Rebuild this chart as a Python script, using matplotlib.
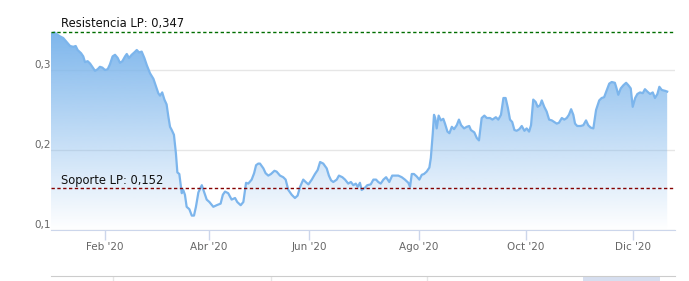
import numpy as np
import matplotlib.pyplot as plt
from matplotlib.transforms import offset_copy

# sesión bursátil (índice de día hábil desde el 1 ene 2020) y cotización
sesiones = [0.9, 2.3, 3.6, 4.6, 5.9, 7.3, 8.7, 10.0, 11.0, 11.8, 13.2, 14.1, 14.8, 15.9, 16.9,
            17.8, 18.9, 20.0, 20.9, 21.9, 23.0, 24.1, 25.0, 26.1, 27.1, 28.2, 29.1, 30.1, 31.2,
            31.9, 32.8, 33.9, 35.0, 36.0, 36.9, 38.0, 39.1, 40.1, 41.4, 42.8, 43.9, 44.8, 45.5,
            46.4, 47.3, 48.2, 48.9, 49.6, 50.3, 51.2, 52.0, 52.6, 53.4, 54.4, 55.0, 55.7, 56.4,
            57.5, 58.5, 59.4, 60.2, 61.2, 62.6, 63.5, 64.6, 65.7, 67.3, 68.7, 70.3, 71.2, 72.1,
            73.4, 74.8, 76.2, 77.1, 78.5, 79.6, 80.7, 81.6, 83.0, 84.0, 84.8, 85.7, 86.4, 87.8,
            88.7, 89.8, 90.9, 92.3, 93.2, 94.6, 95.9, 96.9, 98.0, 99.4, 100.7, 101.8, 102.8,
            104.1, 105.1, 106.2, 107.6, 108.9, 110.0, 111.0, 112.3, 113.7, 114.6, 115.5, 116.4,
            117.8, 118.7, 120.1, 121.2, 122.5, 123.6, 124.6, 125.6, 126.4, 127.3, 128.0, 129.4,
            130.3, 131.7, 132.8, 133.9, 134.8, 135.8, 136.9, 138.0, 139.3, 140.5, 141.7, 143.0,
            144.4, 145.7, 147.1, 147.8, 148.5, 149.4, 150.5, 151.6, 152.6, 153.5, 154.6, 155.7,
            156.3, 157.1, 157.6, 158.1, 158.7, 159.5, 160.4, 161.4, 162.1, 163.1, 163.9, 164.9,
            165.8, 166.9, 167.8, 168.7, 169.9, 171.0, 172.0, 172.7, 174.1, 175.1, 176.0, 177.1,
            178.2, 179.2, 180.5, 181.5, 182.9, 183.9, 185.0, 186.0, 186.9, 187.8, 188.7, 189.6,
            190.5, 191.4, 192.5, 193.5, 194.6, 195.5, 196.5, 197.3, 198.2, 199.2, 200.0, 201.0,
            201.7, 202.7, 203.7, 204.7, 205.8, 206.8, 207.8, 208.7, 209.9, 210.9, 211.9, 212.8,
            213.7, 214.6, 215.3, 216.2, 217.6, 218.7, 219.8, 220.7, 221.7, 222.8, 223.9, 225.2,
            226.2, 227.2, 228.3, 229.3, 230.3, 231.6, 232.3, 233.0, 234.0, 235.1, 236.2, 237.1,
            238.1, 238.9, 239.9, 240.8, 241.9, 243.0, 243.9, 244.9, 246.0, 247.1, 248.0, 249.0,
            249.8, 250.8, 252.1, 253.0]
precios = [0.345, 0.347, 0.344, 0.342, 0.340, 0.335, 0.330, 0.329, 0.330, 0.325, 0.321, 0.317,
           0.310, 0.311, 0.308, 0.304, 0.299, 0.301, 0.304, 0.303, 0.300, 0.301, 0.307, 0.317,
           0.319, 0.315, 0.309, 0.311, 0.317, 0.320, 0.315, 0.319, 0.322, 0.325, 0.322, 0.323,
           0.315, 0.306, 0.296, 0.289, 0.279, 0.271, 0.268, 0.272, 0.263, 0.257, 0.242, 0.229,
           0.225, 0.219, 0.196, 0.172, 0.170, 0.146, 0.150, 0.144, 0.129, 0.126, 0.118, 0.118,
           0.129, 0.147, 0.156, 0.148, 0.138, 0.135, 0.129, 0.131, 0.133, 0.144, 0.148, 0.146,
           0.138, 0.140, 0.135, 0.131, 0.135, 0.159, 0.158, 0.163, 0.171, 0.181, 0.183, 0.183,
           0.177, 0.171, 0.168, 0.170, 0.174, 0.173, 0.168, 0.166, 0.163, 0.150, 0.144, 0.140,
           0.143, 0.154, 0.163, 0.160, 0.157, 0.163, 0.170, 0.175, 0.185, 0.183, 0.177, 0.168,
           0.162, 0.160, 0.163, 0.168, 0.166, 0.163, 0.158, 0.160, 0.156, 0.158, 0.154, 0.159,
           0.150, 0.153, 0.156, 0.157, 0.163, 0.163, 0.160, 0.158, 0.163, 0.166, 0.160, 0.168,
           0.168, 0.168, 0.166, 0.163, 0.159, 0.154, 0.170, 0.170, 0.167, 0.163, 0.169, 0.170,
           0.173, 0.178, 0.190, 0.221, 0.244, 0.240, 0.227, 0.243, 0.237, 0.239, 0.233, 0.223,
           0.221, 0.229, 0.226, 0.231, 0.238, 0.231, 0.227, 0.229, 0.230, 0.225, 0.222, 0.215,
           0.212, 0.240, 0.243, 0.240, 0.240, 0.238, 0.241, 0.238, 0.244, 0.265, 0.265, 0.253,
           0.238, 0.235, 0.225, 0.224, 0.226, 0.230, 0.224, 0.227, 0.223, 0.231, 0.263, 0.260,
           0.254, 0.256, 0.262, 0.254, 0.248, 0.238, 0.237, 0.235, 0.233, 0.234, 0.240, 0.238,
           0.240, 0.244, 0.251, 0.244, 0.233, 0.230, 0.230, 0.231, 0.237, 0.231, 0.228, 0.227,
           0.250, 0.262, 0.265, 0.266, 0.275, 0.283, 0.285, 0.284, 0.277, 0.269, 0.277, 0.281,
           0.284, 0.281, 0.277, 0.254, 0.265, 0.270, 0.272, 0.271, 0.276, 0.273, 0.270, 0.272,
           0.265, 0.270, 0.279, 0.275, 0.274, 0.273]

meses_pos = [23.0, 65.5, 106.4, 151.5, 195.2, 239.0]
meses_txt = ["Feb '20", "Abr '20", "Jun '20", "Ago '20", "Oct '20", "Dic '20"]
y_ticks = [0.1, 0.2, 0.3]
y_txt = ["0,1", "0,2", "0,3"]

resistencia = 0.347
soporte = 0.152

azul = (124 / 255, 181 / 255, 236 / 255)

fig = plt.figure(figsize=(6.89, 2.81), dpi=100)
ax = fig.add_axes([51 / 689, 51 / 281, 624 / 689, 200 / 281])
ax.set_xlim(0.9, 256.2)
ax.set_ylim(0.1, 0.35)

# relleno degradado bajo la línea
x = np.array(sesiones)
y = np.array(precios)
relleno = ax.fill_between(x, y, 0.1, color='none', lw=0)
grad = np.zeros((256, 1, 4))
grad[:, 0, 0] = azul[0]
grad[:, 0, 1] = azul[1]
grad[:, 0, 2] = azul[2]
grad[:, 0, 3] = np.linspace(0.0, 1.0, 256)
im = ax.imshow(grad, extent=[0.9, 256.2, 0.1, 0.35], origin='lower', aspect='auto', zorder=1)
im.set_clip_path(relleno.get_paths()[0], transform=ax.transData)

ax.plot(x, y, color='#7cb5ec', lw=1.6, zorder=3, solid_joinstyle='round')

# líneas de soporte y resistencia
ax.axhline(resistencia, color='#006e00', lw=1, ls=(0, (2.4, 1.8)), zorder=4)
ax.axhline(soporte, color='#850000', lw=1, ls=(0, (2.4, 1.8)), zorder=4)
ax.annotate('Resistencia LP: ' + f'{resistencia:.3f}'.replace('.', ','),
            xy=(0.016, resistencia), xycoords=('axes fraction', 'data'),
            xytext=(0, 1.5), textcoords='offset points', va='bottom', ha='left',
            fontsize=8.3, color='#111111', annotation_clip=False)
ax.annotate('Soporte LP: ' + f'{soporte:.3f}'.replace('.', ','),
            xy=(0.016, soporte), xycoords=('axes fraction', 'data'),
            xytext=(0, 1.0), textcoords='offset points', va='bottom', ha='left',
            fontsize=8.3, color='#111111', zorder=5)

# ejes
for s in ['top', 'right', 'left']:
    ax.spines[s].set_visible(False)
ax.spines['bottom'].set_color('#ccd6eb')
ax.set_xticks(meses_pos)
ax.set_xticklabels(meses_txt)
ax.tick_params(axis='x', length=7, width=1, color='#ccd6eb', labelcolor='#666666',
               labelsize=7.5, pad=2)
ax.set_yticks(y_ticks)
ax.set_yticklabels(y_txt)
ax.tick_params(axis='y', length=0, labelcolor='#666666', labelsize=7.5, pad=11.5)
off = offset_copy(ax.get_yaxis_transform(), fig=fig, x=0, y=6, units='dots')
for lab in ax.get_yticklabels():
    lab.set_transform(off)
ax.yaxis.grid(True, color='#e6e6e6', lw=1)
ax.set_axisbelow(True)

# navegador inferior (parte visible)
nav = fig.add_axes([51 / 689, 0, 624 / 689, 5 / 281])
nav.set_xlim(0, 1)
nav.set_ylim(0, 1)
for s in ['bottom', 'right', 'left']:
    nav.spines[s].set_visible(False)
nav.spines['top'].set_color('#cccccc')
nav.set_xticks([])
nav.set_yticks([])
for pos in [0.099, 0.353, 0.603]:
    nav.axvline(pos, color='#e6e6e6', lw=1)
nav.axvspan(0.853, 0.976, color='#ccd6eb', alpha=0.8, lw=0)
nav.patch.set_alpha(0)

fig.savefig('out.png', dpi=100)
